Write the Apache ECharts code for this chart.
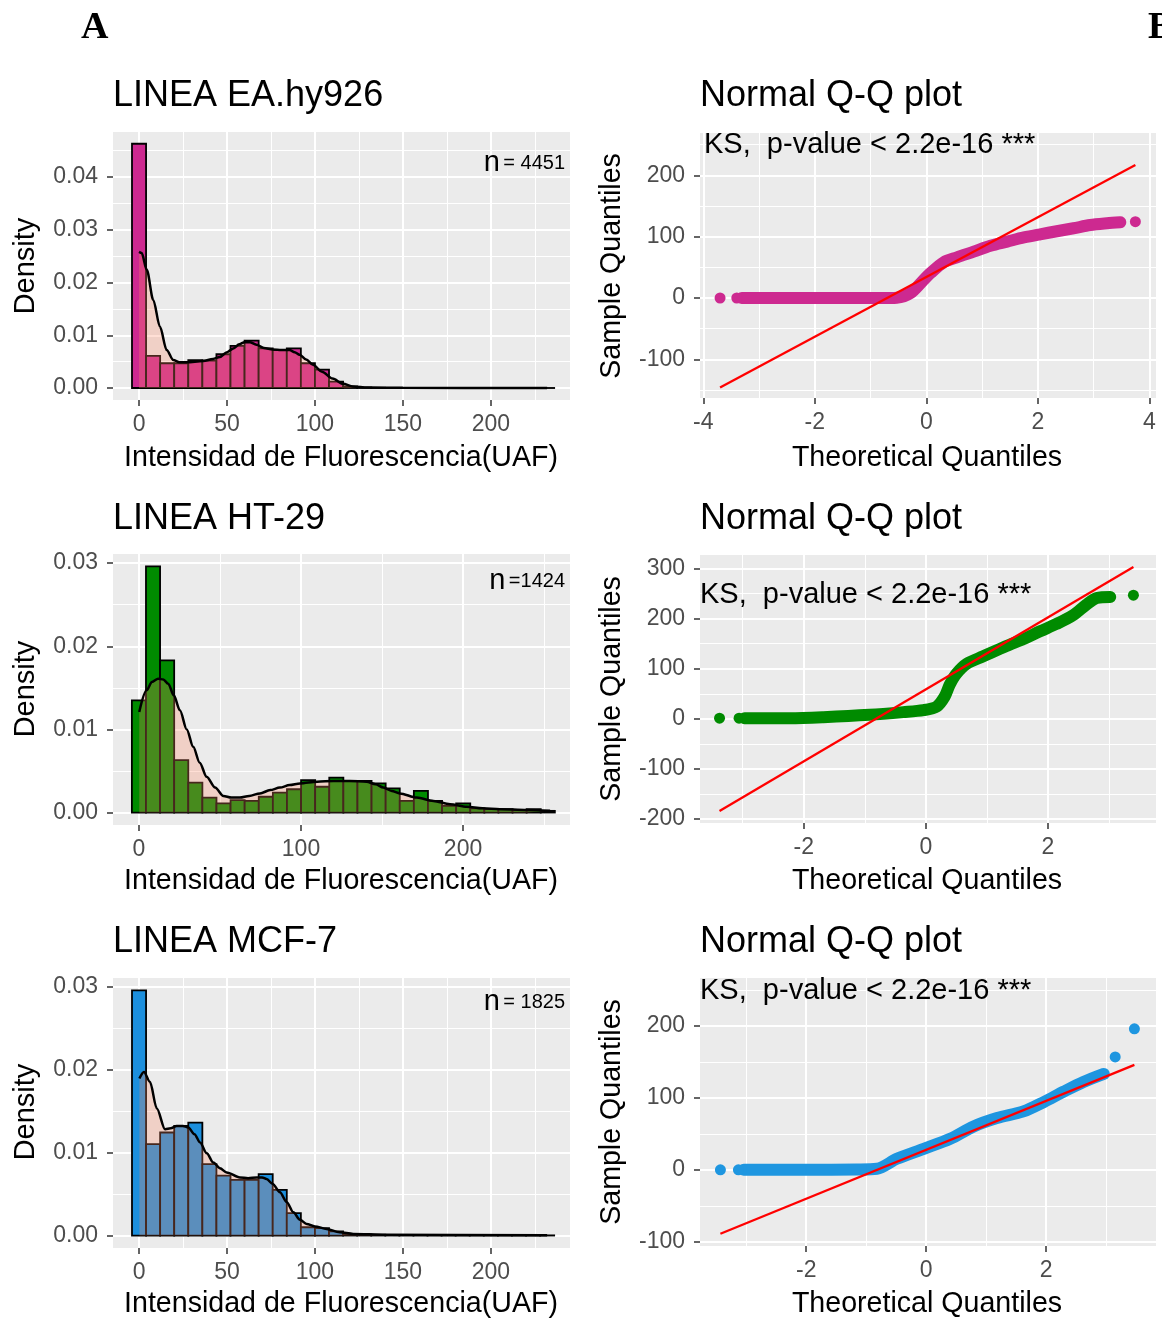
<!DOCTYPE html>
<html>
<head>
<meta charset="utf-8">
<script src="https://cdn.jsdelivr.net/npm/echarts@6/dist/echarts.min.js"></script>
<style>
html, body { margin: 0; padding: 0; background: #fff; }
#main { width: 1162px; height: 1319px; }
</style>
</head>
<body>
<div id="main"></div>
<script>
// ---- histogramas: densidad por bin (bins centrados en 0, 1*w, 2*w ...) ----
var binWidthEA = 8;
var histEA = [0.0463, 0.0061, 0.0047, 0.0047, 0.0053, 0.0052, 0.0064, 0.0080, 0.0090, 0.0075,
    0.0072, 0.0075, 0.0047, 0.0035, 0.0012, 0.0003, 0.0001, 0.00005, 0.00003, 0.00002,
    0.00002, 0.00001, 0.00001, 0.00001, 0.00001, 0.00001, 0.00001, 0.00001, 0.00001, 0.00001];
var densEA = [[0, 0.0258], [1.5, 0.0256], [4.4, 0.0224], [8.1, 0.0167], [11.9, 0.0116], [15.7, 0.0072],
    [19.5, 0.0053], [23, 0.0049], [27, 0.0049], [36.5, 0.0051], [42, 0.0055], [46, 0.0059], [50, 0.0068],
    [53.6, 0.0075], [57, 0.0083], [60, 0.0087], [63, 0.0087], [66.7, 0.0082], [71, 0.0076], [76, 0.0073],
    [81, 0.0072], [85.6, 0.0072], [88.5, 0.0068], [91.3, 0.0063], [95, 0.0054], [98.9, 0.0044],
    [104, 0.0031], [110, 0.0018], [116, 0.0008], [121.6, 0.0003], [130, 0.0001], [150, 0.00003], [232, 0.00001]];

var binWidthHT = 8.7;
var histHT = [0.0135, 0.0296, 0.0183, 0.0063, 0.0036, 0.0018, 0.0011, 0.0015, 0.0014, 0.0019,
    0.0024, 0.0028, 0.0039, 0.0031, 0.0042, 0.0038, 0.0038, 0.0035, 0.0029, 0.0014,
    0.0026, 0.0014, 0.0008, 0.0011, 0.0005, 0.0004, 0.0004, 0.0003, 0.0004, 0.0002];
var densHT = [[0.2, 0.0121], [4.7, 0.0147], [8, 0.0157], [11.9, 0.0161], [15, 0.0160], [18.1, 0.0155],
    [21.5, 0.0141], [25.3, 0.0123], [29.5, 0.0100], [33.5, 0.0079], [37.5, 0.0060], [41.8, 0.0043],
    [47, 0.0030], [52.1, 0.0020], [57, 0.0018], [62.3, 0.0018], [68, 0.0020], [74.7, 0.0023], [81, 0.0027],
    [87, 0.0030], [93, 0.0033], [99.4, 0.0035], [110, 0.0037], [120, 0.0038], [130, 0.0038], [140.5, 0.0037],
    [146, 0.0034], [150.8, 0.0030], [156, 0.0026], [161, 0.0023], [171.4, 0.0018], [181.7, 0.0014],
    [192, 0.0010], [202.3, 0.0007], [212, 0.0005], [222.8, 0.0004], [239.3, 0.0003], [253.7, 0.0002]];

var binWidthMCF = 8;
var histMCF = [0.0295, 0.0110, 0.0124, 0.0132, 0.0136, 0.0086, 0.0072, 0.0067, 0.0067, 0.0074,
    0.0055, 0.0027, 0.0010, 0.0009, 0.0005, 0.0002, 0.0001, 0.0001, 0.00005, 0.00005,
    0.00003, 0.00003, 0.00003, 0.00003, 0.00002, 0.00002, 0.00002, 0.00002, 0.00002, 0.00002];
var densMCF = [[0.2, 0.0189], [2.8, 0.0197], [6.2, 0.0185], [10.1, 0.0153], [14.8, 0.0128], [18, 0.0129],
    [21.4, 0.0132], [25, 0.0132], [28, 0.0130], [31.5, 0.0122], [34.7, 0.0112], [38.5, 0.0099], [42.2, 0.0088],
    [46, 0.0081], [49.8, 0.0076], [57.4, 0.0070], [62, 0.0069], [66.9, 0.0070], [70, 0.0070], [72.5, 0.0068],
    [76, 0.0062], [80.1, 0.0052], [84, 0.0040], [87.7, 0.0028], [91.5, 0.0019], [95.3, 0.0014], [100, 0.0011],
    [106.6, 0.0008], [114, 0.0004], [121.8, 0.0002], [140, 0.0001], [232, 0.00002]];

// ---- Q-Q: banda de puntos, puntos aislados, recta qqline ----
var qqBandEA = [[-3.31, 0], [-2.5, 0], [-1.5, 0], [-0.8, 0], [-0.53, 0.5], [-0.29, 7.6], [-0.05, 29.4],
    [0.07, 40.2], [0.31, 58.2], [0.55, 66.3], [0.85, 75.6], [1.15, 85.1], [1.45, 91.9], [1.75, 98.7],
    [2.04, 103.9], [2.34, 108.8], [2.64, 113.7], [2.94, 119], [3.24, 121.8], [3.48, 123.4]];
var qqOutEA = [[-3.70, 0], [-3.40, 0], [3.75, 124.5]];
var qqLineEA = [[-3.70, -146], [3.75, 217]];

var qqBandHT = [[-2.97, 1.3], [-2.23, 1.3], [-1.68, 3.3], [-0.92, 8], [-0.37, 13.3], [-0.04, 17.3],
    [0.18, 24.7], [0.31, 44.7], [0.39, 68], [0.50, 90], [0.67, 110], [0.94, 124.7], [1.32, 145.3],
    [1.60, 159.3], [1.87, 174.7], [2.14, 189.3], [2.41, 206.7], [2.63, 228], [2.80, 241.3], [3.02, 243.3]];
var qqOutHT = [[-3.38, 1.3], [-3.06, 1.3], [3.40, 246.7]];
var qqLineHT = [[-3.38, -184], [3.40, 303]];

var qqBandMCF = [[-3.04, 0], [-1.99, 0], [-1.16, 0.5], [-0.82, 1.5], [-0.49, 15.3], [-0.04, 29.3],
    [0.40, 43.2], [0.79, 60.4], [1.18, 72.1], [1.62, 81.3], [1.96, 94.4], [2.29, 108.8], [2.62, 122.3],
    [2.96, 133.5]];
var qqOutMCF = [[-3.43, 0], [-3.13, 0], [3.15, 157.2], [3.47, 196.2]];
var qqLineMCF = [[-3.43, -89], [3.47, 146]];

// ---- textos ----
var histTitles = ['LINEA EA.hy926', 'LINEA HT-29', 'LINEA MCF-7'];
var histN = ['= 4451', '=1424', '= 1825'];
var qqTitle = 'Normal Q-Q plot';
var ksText = 'KS,  p-value < 2.2e-16 ***';

var FONT = 'Liberation Sans';
var cMag = '#CD2990', cGreen = '#008B00', cBlue = '#1C8FDD';
var overlay = 'rgba(255,140,105,0.4)';

var chart = echarts.init(document.getElementById('main'));

// paneles (posicion en pixeles)
var grids = [
    { left: 113, top: 132, width: 457, height: 268 },
    { left: 113, top: 554, width: 457, height: 271 },
    { left: 113, top: 978, width: 457, height: 270 },
    { left: 700, top: 133, width: 456, height: 265 },
    { left: 700, top: 555, width: 456, height: 268 },
    { left: 700, top: 978, width: 456, height: 268 }
];
grids.forEach(function (g) {
    g.show = true;
    g.backgroundColor = '#EBEBEB';
    g.borderWidth = 0;
    g.containLabel = false;
});

function ticksOf(min, max, step) {
    var out = [];
    for (var v = Math.ceil(min / step - 1e-9) * step; v <= max + 1e-9; v += step) {
        out.push(Math.round(v / step) * step);
    }
    return out;
}

function axisOf(idx, min, max, step, dec, isX) {
    return {
        type: 'value',
        gridIndex: idx,
        min: min,
        max: max,
        minInterval: step,
        maxInterval: step,
        axisLine: { show: false, onZero: false },
        axisTick: {
            show: true, length: 6,
            lineStyle: { color: '#333333', width: 1.5 },
            customValues: ticksOf(min, max, step)
        },
        axisLabel: {
            show: true,
            customValues: ticksOf(min, max, step),
            color: '#4D4D4D',
            fontSize: 23,
            fontFamily: FONT,
            margin: isX ? 13 : 15,
            formatter: function (v) {
                var k = v / step;
                return Math.abs(k - Math.round(k)) < 1e-6 ? (Math.round(k) * step).toFixed(dec) : '';
            }
        },
        splitLine: { show: true, lineStyle: { color: '#FFFFFF', width: 2 } },
        minorTick: { show: false, splitNumber: 2 },
        minorSplitLine: { show: true, lineStyle: { color: '#FFFFFF', width: 1 } }
    };
}

var xAxes = [
    axisOf(0, -14.8, 245, 50, 0, true),
    axisOf(1, -16, 266, 100, 0, true),
    axisOf(2, -14.8, 245, 50, 0, true),
    axisOf(3, -4.06, 4.12, 2, 0, true),
    axisOf(4, -3.70, 3.77, 2, 0, true),
    axisOf(5, -3.77, 3.83, 2, 0, true)
];
var yAxes = [
    axisOf(0, -0.00227, 0.04853, 0.01, 2, false),
    axisOf(1, -0.0015, 0.0311, 0.01, 2, false),
    axisOf(2, -0.0015, 0.0310, 0.01, 2, false),
    axisOf(3, -163, 269, 100, 0, false),
    axisOf(4, -208, 327, 100, 0, false),
    axisOf(5, -106, 267, 100, 0, false)
];

function histSeries(idx, dens, width, color) {
    return {
        type: 'custom',
        xAxisIndex: idx,
        yAxisIndex: idx,
        clip: true,
        z: 2,
        data: dens.map(function (d, i) { return [i * width, d]; }),
        renderItem: function (params, api) {
            var c = api.value(0), h = api.value(1);
            var p0 = api.coord([c - width / 2, h]);
            var p1 = api.coord([c + width / 2, 0]);
            return {
                type: 'rect',
                shape: { x: p0[0], y: p0[1], width: p1[0] - p0[0], height: p1[1] - p0[1] },
                style: { fill: color, stroke: '#000', lineWidth: 1.8 }
            };
        }
    };
}

function densitySeries(idx, pts) {
    return {
        type: 'line',
        xAxisIndex: idx,
        yAxisIndex: idx,
        data: pts,
        smooth: 0.3,
        smoothMonotone: 'x',
        symbol: 'none',
        z: 3,
        lineStyle: { color: '#000', width: 2.5 },
        areaStyle: { color: overlay, origin: 0 }
    };
}

function qqSeries(idx, band, out, line, color) {
    return [
        {
            type: 'line', xAxisIndex: idx, yAxisIndex: idx, data: band,
            smooth: 0.3, symbol: 'none', z: 2,
            lineStyle: { color: color, width: 12, cap: 'round', join: 'round' }
        },
        {
            type: 'scatter', xAxisIndex: idx, yAxisIndex: idx, data: out,
            symbolSize: 11, z: 2, itemStyle: { color: color, opacity: 1 }
        },
        {
            type: 'line', xAxisIndex: idx, yAxisIndex: idx, data: line,
            symbol: 'none', z: 4, lineStyle: { color: '#FF0000', width: 2.3 }
        }
    ];
}

var series = [
    histSeries(0, histEA, binWidthEA, cMag), densitySeries(0, densEA),
    histSeries(1, histHT, binWidthHT, cGreen), densitySeries(1, densHT),
    histSeries(2, histMCF, binWidthMCF, cBlue), densitySeries(2, densMCF)
].concat(
    qqSeries(3, qqBandEA, qqOutEA, qqLineEA, cMag),
    qqSeries(4, qqBandHT, qqOutHT, qqLineHT, cGreen),
    qqSeries(5, qqBandMCF, qqOutMCF, qqLineMCF, '#1E96E0')
);

function txt(x, y, s, size, extra) {
    var o = {
        type: 'text', x: x, y: y, z: 10,
        style: {
            text: s, fontSize: size, fontFamily: FONT, fill: '#000',
            align: 'left', verticalAlign: 'middle'
        }
    };
    if (extra) {
        for (var k in extra) {
            if (k === 'style') { for (var j in extra.style) o.style[j] = extra.style[j]; }
            else o[k] = extra[k];
        }
    }
    return o;
}

var rowY = [0, 423, 846];
var graphics = [
    txt(81, 28, 'A', 38, { style: { fontFamily: 'Liberation Serif', fontWeight: 'bold' } }),
    txt(1148, 28, 'B', 38, { style: { fontFamily: 'Liberation Serif', fontWeight: 'bold' } })
];
rowY.forEach(function (dy, i) {
    graphics.push(txt(113, 96 + dy, histTitles[i], 36));
    graphics.push(txt(700, 96 + dy, qqTitle, 36));
    graphics.push(txt(341, 458 + dy, 'Intensidad de Fluorescencia(UAF)', 28.6, { style: { align: 'center' } }));
    graphics.push(txt(927, 458 + dy, 'Theoretical Quantiles', 28.6, { style: { align: 'center' } }));
    graphics.push(txt(26, 266 + dy, 'Density', 29, { rotation: Math.PI / 2, style: { align: 'center' } }));
    graphics.push(txt(612, 266 + dy, 'Sample Quantiles', 28.6, { rotation: Math.PI / 2, style: { align: 'center' } }));
    graphics.push({
        type: 'text', x: 565, y: [163, 581, 1002][i], z: 10,
        style: {
            text: '{n|n} {v|' + histN[i] + '}',
            align: 'right', verticalAlign: 'middle', fill: '#000',
            rich: {
                n: { fontSize: 29, fontFamily: FONT, fill: '#000' },
                v: { fontSize: 20, fontFamily: FONT, fill: '#000' }
            }
        }
    });
});
graphics.push(txt(704, 145, ksText, 29));
graphics.push(txt(700, 595, ksText, 29));
graphics.push(txt(700, 991, ksText, 29));

chart.setOption({
    animation: false,
    textStyle: { fontFamily: FONT },
    grid: grids,
    xAxis: xAxes,
    yAxis: yAxes,
    series: series,
    graphic: graphics
});
</script>
</body>
</html>
